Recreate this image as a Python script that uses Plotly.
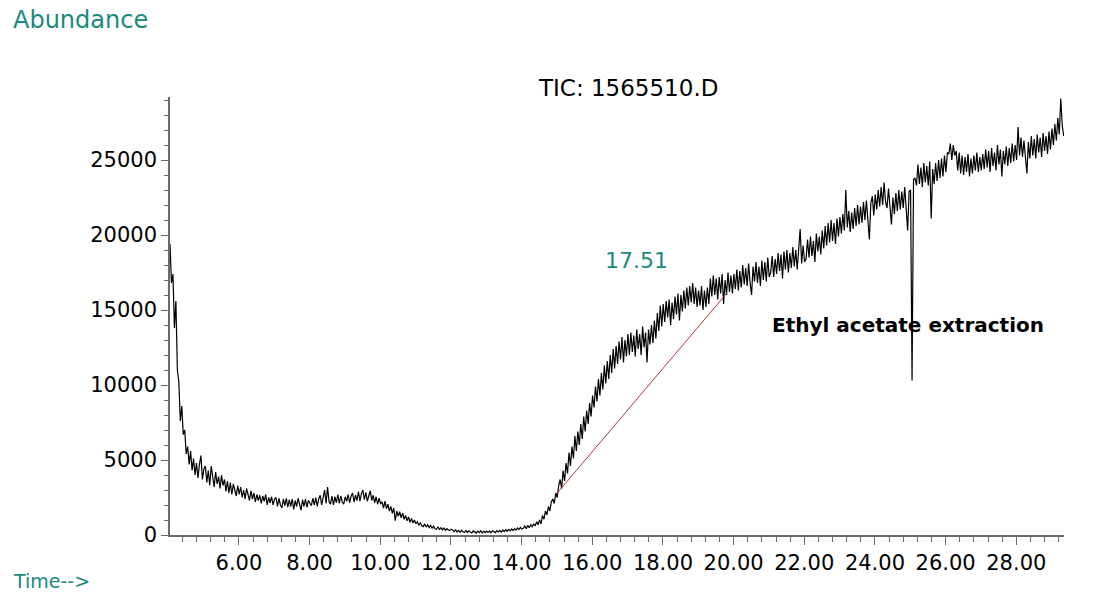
import numpy as np
import plotly.graph_objects as go

# ---- data ----
scan_start = 4.05          # min, first plotted scan
scans_per_minute = 24      # plotted scan density

tic_abundance = [
    # 4.05 - 5.01
    19400, 16800, 17400, 13800, 15600, 11000, 10200, 7600, 8600, 6700, 7000, 5400,
    5900, 4700, 5600, 4300, 5100, 4000, 4800, 3800, 4700, 5300, 3700, 4400,
    # 5.05 - 6.01
    4600, 3500, 4300, 3300, 4600, 3700, 3200, 4200, 3400, 3900, 3100, 4000,
    3300, 3700, 2900, 3600, 2800, 3500, 2700, 3400, 3000, 2600, 3300, 2700,
    # 6.05 - 7.01
    3200, 2500, 3000, 2400, 3100, 2600, 2300, 2950, 2400, 2800, 2200, 2700,
    2300, 2650, 2100, 2600, 2250, 2700, 2000, 2500, 2150, 2550, 2000, 2400,
    # 7.05 - 8.01
    2500, 1900, 2450, 2000, 1800, 2400, 1950, 2450, 1850, 2350, 1900, 2400,
    1700, 2300, 1900, 2450, 2000, 1650, 2350, 1900, 2400, 1850, 2300, 2100,
    # 8.05 - 9.01
    1950, 2450, 2000, 2500, 1900, 2400, 2650, 2000, 2500, 3000, 2100, 3200,
    2250, 2050, 2600, 2000, 2550, 2150, 2700, 2100, 2600, 2200, 2050, 2550,
    # 9.05 - 10.01
    2250, 2700, 2150, 2600, 2800, 2200, 2650, 2300, 2900, 2250, 2750, 3000,
    2350, 2850, 2250, 2700, 2950, 2300, 2650, 2150, 2550, 2050, 2450, 2100,
    # 10.05 - 11.01
    2200, 1800, 2250, 1750, 2050, 1600, 1900, 1450, 1800, 950, 1600, 1250,
    1550, 1150, 1450, 1050, 1300, 950, 1200, 850, 1100, 800, 1000, 750,
    # 11.05 - 12.01
    880, 650, 800, 620, 560, 740, 530, 680, 490, 640, 460, 590,
    420, 380, 550, 370, 490, 340, 470, 310, 430, 340, 290, 380,
    # 12.05 - 13.01
    340, 220, 350, 200, 310, 180, 320, 210, 170, 300, 160, 280,
    200, 140, 270, 170, 130, 260, 160, 280, 140, 240, 150, 260,
    # 13.05 - 14.01
    170, 260, 150, 280, 190, 160, 290, 200, 310, 180, 330, 230,
    350, 250, 370, 270, 400, 300, 430, 330, 470, 360, 500, 400,
    # 14.05 - 15.01
    450, 600, 420, 640, 490, 690, 550, 750, 600, 880, 680, 1000,
    740, 1300, 1050, 1600, 1350, 1900, 1600, 2200, 2400, 2100, 2800, 2500,
    # 15.05 - 16.01
    3300, 3700, 3100, 4300, 3600, 4800, 4100, 5500, 4600, 5900, 5100, 6600,
    5600, 6900, 6000, 7400, 6400, 7900, 6900, 8300, 7400, 8800, 7900, 9300,
    # 16.05 - 17.01
    8500, 9900, 8900, 10400, 9300, 10800, 9700, 11300, 10100, 11600, 10400, 12000,
    10800, 12400, 11100, 12600, 11400, 12900, 11700, 13200, 11500, 13000, 11900, 13400,
    # 17.05 - 18.01
    12000, 13500, 12200, 13300, 11900, 13700, 12400, 13400, 12000, 13900, 12500, 13500,
    11500, 13700, 12700, 14000, 12800, 14300, 13100, 14800, 13600, 15300, 13900, 15400,
    # 18.05 - 19.01
    14200, 15600, 14500, 15700, 14000, 15500, 14400, 15900, 14700, 16100, 14300, 16000,
    14900, 16300, 15100, 16500, 15300, 16600, 15500, 16800, 15400, 16500, 15200, 16300,
    # 19.05 - 20.01
    15300, 16600, 15000, 16300, 15200, 16500, 15400, 17100, 15900, 17300, 16000, 17100,
    15700, 17200, 16100, 17400, 15400, 17000, 16000, 17500, 16200, 17300, 16100, 17400,
    # 20.05 - 21.01
    16400, 17700, 16300, 17600, 16500, 18000, 16700, 17800, 16600, 18100, 16800, 16000,
    17900, 16900, 18200, 16800, 17900, 16600, 18300, 17000, 18200, 16900, 18500, 17200,
    # 21.05 - 22.01
    17500, 18600, 17200, 18400, 17400, 18800, 17600, 18700, 17100, 18900, 17700, 19000,
    17500, 18800, 17800, 19200, 17900, 19000, 17700, 19100, 20400, 18100, 19300, 18200,
    # 22.05 - 23.01
    18400, 19700, 18500, 19900, 18600, 19600, 18200, 20100, 18900, 19900, 18700, 20300,
    19100, 20600, 19300, 20800, 19500, 21000, 19600, 20800, 19400, 21100, 19900, 21200,
    # 23.05 - 24.01
    20100, 21400, 20300, 23000, 20500, 21600, 20200, 21500, 20400, 21800, 20600, 22000,
    20700, 21900, 20800, 22200, 21000, 22300, 20900, 19700, 22100, 22600, 21300, 22700,
    # 24.05 - 25.01
    21700, 23000, 21900, 23200, 22000, 23500, 22200, 21800, 23100, 21500, 20700, 22500,
    21400, 22800, 21600, 23000, 21700, 22900, 21800, 23200, 22000, 20300, 22900, 23000,
    # 25.05 - 26.01
    10300, 23700, 23800, 23300, 24700, 23400, 24500, 23200, 24800, 23500, 24600, 23300,
    24900, 21100, 24400, 23400, 24800, 23600, 25000, 23800, 25100, 23900, 25300, 24200,
    # 26.05 - 27.01
    25500, 25400, 26100, 25000, 26000, 25300, 25600, 24300, 25500, 24100, 25300, 24000,
    25200, 24200, 25400, 23900, 25100, 24100, 25300, 24300, 25500, 24200, 25200, 24300,
    # 27.05 - 28.01
    25400, 24400, 25700, 24500, 25600, 24200, 25800, 24600, 25500, 24300, 26000, 24700,
    25700, 23900, 25600, 24700, 25900, 24600, 25800, 24800, 26100, 24900, 26000, 25000,
    # 28.05 - 29.01
    27200, 25300, 26500, 25200, 26300, 25000, 24100, 26200, 25100, 26600, 25300, 26400,
    25100, 26700, 25500, 26500, 25200, 26800, 25600, 26600, 25400, 26900, 25700, 27100,
    # 29.05 - 29.34
    26000, 27400, 26300, 27800, 26700, 29100, 27300, 26600,
]

baseline_t = [14.99, 19.80]
baseline_v = [2750, 16100]

x_tick_values = [6, 8, 10, 12, 14, 16, 18, 20, 22, 24, 26, 28]
x_tick_labels = ["6.00", "8.00", "10.00", "12.00", "14.00", "16.00",
                 "18.00", "20.00", "22.00", "24.00", "26.00", "28.00"]
y_tick_values = [0, 5000, 10000, 15000, 20000, 25000]
y_tick_labels = ["0", "5000", "10000", "15000", "20000", "25000"]

peak_label = "17.51"
peak_label_pos = (17.26, 18300)
sample_label = "Ethyl acetate extraction"
sample_label_pos = (24.93, 13990)
chart_title = "TIC: 1565510.D"

scan_times = scan_start + np.arange(len(tic_abundance)) / scans_per_minute

TEAL = "#198a7e"
AXIS = "#6a6a6a"
FONT = "DejaVu Sans"

fig = go.Figure()
fig.add_trace(go.Scatter(
    x=scan_times, y=tic_abundance, mode="lines",
    line=dict(color="black", width=1.2), showlegend=False, hoverinfo="skip"))
fig.add_trace(go.Scatter(
    x=baseline_t, y=baseline_v, mode="lines",
    line=dict(color="#b03a3a", width=1), showlegend=False, hoverinfo="skip"))

fig.update_layout(
    width=1094, height=598,
    margin=dict(l=170, r=30, t=97, b=63),
    paper_bgcolor="white", plot_bgcolor="white",
    font=dict(family=FONT, size=21, color="black"),
)

fig.update_xaxes(
    range=[4.05, 29.35], showgrid=False, zeroline=False,
    showline=True, linecolor=AXIS, linewidth=1.5,
    tickmode="array", tickvals=x_tick_values, ticktext=x_tick_labels,
    ticks="outside", ticklen=8, tickwidth=1.2, tickcolor=AXIS,
    tickfont=dict(family=FONT, size=21, color="black"),
    minor=dict(dtick=0.4, tick0=0, ticks="outside", ticklen=5,
               tickwidth=1, tickcolor=AXIS, showgrid=False),
)
fig.update_yaxes(
    range=[0, 29200], showgrid=False, zeroline=False,
    showline=True, linecolor=AXIS, linewidth=1.5,
    tickmode="array", tickvals=y_tick_values, ticktext=y_tick_labels,
    ticks="outside", ticklen=7, tickwidth=1.2, tickcolor=AXIS,
    tickfont=dict(family=FONT, size=21, color="black"),
    minor=dict(dtick=1000, tick0=0, ticks="outside", ticklen=4,
               tickwidth=1, tickcolor=AXIS, showgrid=False),
)

fig.add_annotation(text="Abundance", xref="paper", yref="paper",
                   x=-0.178, y=1.176, xanchor="left", yanchor="middle",
                   showarrow=False, font=dict(family=FONT, size=24, color=TEAL))
fig.add_annotation(text="Time-->", xref="paper", yref="paper",
                   x=-0.178, y=-0.105, xanchor="left", yanchor="middle",
                   showarrow=False, font=dict(family=FONT, size=19, color=TEAL))
fig.add_annotation(text=chart_title, xref="paper", yref="paper",
                   x=0.512, y=1.0205, xanchor="center", yanchor="middle",
                   showarrow=False, font=dict(family=FONT, size=23, color="black"))
fig.add_annotation(text=peak_label, x=peak_label_pos[0], y=peak_label_pos[1],
                   xanchor="center", yanchor="middle", showarrow=False,
                   font=dict(family=FONT, size=22, color=TEAL))
fig.add_annotation(text="<b>" + sample_label + "</b>",
                   x=sample_label_pos[0], y=sample_label_pos[1],
                   xanchor="center", yanchor="middle", showarrow=False,
                   font=dict(family=FONT, size=20, color="black"))

fig.write_html("out.html")
